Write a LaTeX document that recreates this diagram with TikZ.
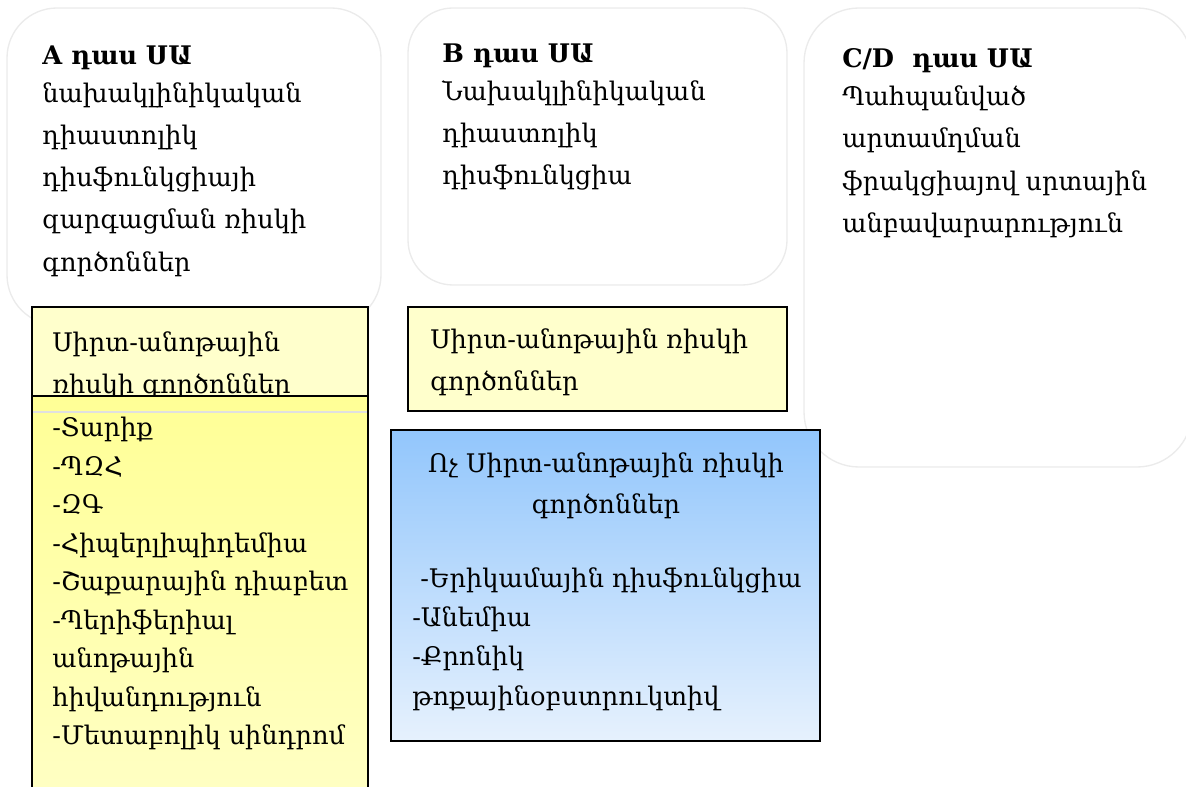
\documentclass[tikz,border=0pt]{standalone}
\usepackage{fontspec}
\setmainfont{DejaVu Serif}
\begin{document}
\begin{tikzpicture}[x=0.75pt,y=-0.75pt,
  roundbox/.style={draw=black!8,fill=white,line width=1pt},
  yelbox/.style={draw=black,line width=1pt,fill={rgb,255:red,255;green,255;blue,204}},
  txt/.style={anchor=north west,inner sep=0pt,align=left,font=\fontsize{19.2pt}{31.7pt}\selectfont},
  txtb/.style={anchor=north west,inner sep=0pt,align=left,font=\fontsize{19.2pt}{28.9pt}\selectfont},
  txtc/.style={anchor=north west,inner sep=0pt,align=left,font=\fontsize{19.2pt}{29.6pt}\selectfont},
]
\useasboundingbox (0,0) rectangle (1186,787);
\begin{scope}
\clip (0,0) rectangle (1186,787);
% rounded boxes
\draw[roundbox,rounded corners=50*0.75pt] (7,8) rectangle (381,325);
\draw[roundbox,rounded corners=45*0.75pt] (408,8) rectangle (787,285);
\draw[roundbox,rounded corners=55*0.75pt] (804,8) rectangle (1192,467);
\node[txt] (ta) at (42,46) {\textbf{A դաս ՍԱ}\\[-3.75pt]նախակլինիկական\\դիաստոլիկ\\դիսֆունկցիայի\\զարգացման ռիսկի\\գործոններ};
\node[txt] (tb) at (442,44) {\textbf{B դաս ՍԱ}\\[-3.75pt]Նախակլինիկական\\դիաստոլիկ\\դիսֆունկցիա};
\node[txt] (tc) at (842,48) {\textbf{C/D\ \ դաս ՍԱ}\\[-3pt]Պահպանված\\արտամղման\\ֆրակցիայով սրտային\\անբավարարություն};
% yellow box A
\draw[yelbox] (32,307) rectangle (368,397);
\node[txt] (ya) at (52,331) {Սիրտ-անոթային\\ռիսկի գործոններ};
\shade[top color={rgb,255:red,255;green,255;blue,150},bottom color={rgb,255:red,255;green,255;blue,196}] (32,396) rectangle (368,800);
\draw[black!12,line width=1pt] (33,412) -- (367,412);
\draw[black,line width=1pt] (32,800) -- (32,396) -- (368,396) -- (368,800);
\node[txtb] (la) at (52,417) {-Տարիք\\-ՊԶՀ\\-ԶԳ\\-Հիպերլիպիդեմիա\\-Շաքարային դիաբետ\\-Պերիֆերիալ\\անոթային\\հիվանդություն\\-Մետաբոլիկ սինդրոմ};
% yellow box B
\draw[yelbox] (408,307) rectangle (787,411);
\node[txt] (yb) at (430,328) {Սիրտ-անոթային ռիսկի\\գործոններ};
% blue box
\shade[top color={rgb,255:red,146;green,198;blue,252},bottom color={rgb,255:red,230;green,241;blue,253}] (391,430) rectangle (820,741);
\draw[black,line width=1pt] (391,430) rectangle (820,741);
\node[anchor=north,inner sep=0pt,align=center,font=\fontsize{19.2pt}{31pt}\selectfont] (bt) at (606,452) {Ոչ Սիրտ-անոթային ռիսկի\\գործոններ};
\node[txtc] (bl) at (412,567) {\ -Երիկամային դիսֆունկցիա\\-Անեմիա\\-Քրոնիկ\\թոքայինօբստրուկտիվ};
\end{scope}
\end{tikzpicture}
\end{document}
